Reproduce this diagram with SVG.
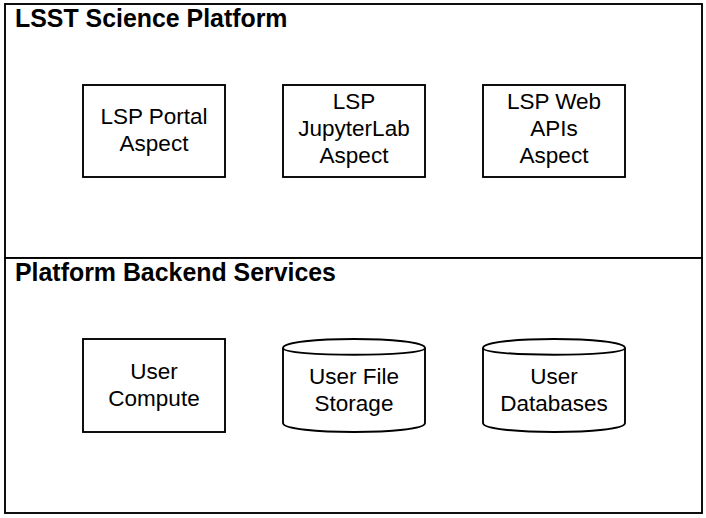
<svg xmlns="http://www.w3.org/2000/svg" width="706" height="518" viewBox="0 0 706 518">
<style>
.shape{fill:#ffffff;stroke:#000000;stroke-width:1.875}
.title{font-family:"Liberation Sans",Arial,Helvetica,sans-serif;font-size:24.9px;font-weight:bold;fill:#000000}
.lbl{font-family:"Liberation Sans",Arial,Helvetica,sans-serif;font-size:22.5px;fill:#000000;text-anchor:middle}
</style>
<rect width="706" height="518" fill="#ffffff"/>
<g id="lsst-science-platform">
<rect class="shape" x="5" y="4" width="697" height="254"/>
<text class="title" x="15" y="27">LSST Science Platform</text>
</g>
<g id="platform-backend-services">
<rect class="shape" x="5" y="258" width="697" height="255"/>
<text class="title" x="15" y="281">Platform Backend Services</text>
</g>
<g id="portal-aspect">
<rect class="shape" x="83" y="85" width="142" height="92"/>
<text class="lbl" x="154" y="124">LSP Portal</text>
<text class="lbl" x="154" y="151">Aspect</text>
</g>
<g id="jupyterlab-aspect">
<rect class="shape" x="283" y="85" width="142" height="92"/>
<text class="lbl" x="354" y="109">LSP</text>
<text class="lbl" x="354" y="136">JupyterLab</text>
<text class="lbl" x="354" y="163">Aspect</text>
</g>
<g id="webapis-aspect">
<rect class="shape" x="483" y="85" width="142" height="92"/>
<text class="lbl" x="554" y="109">LSP Web</text>
<text class="lbl" x="554" y="136">APIs</text>
<text class="lbl" x="554" y="163">Aspect</text>
</g>
<g id="user-compute">
<rect class="shape" x="83" y="339" width="142" height="93"/>
<text class="lbl" x="154" y="379">User</text>
<text class="lbl" x="154" y="406">Compute</text>
</g>
<g id="user-file-storage">
<path class="shape" d="M283,348 C283,336 425,336 425,348 L425,423 C425,435 283,435 283,423 Z"/>
<path class="shape" d="M283,348 C283,357 425,357 425,348" fill="none"/>
<text class="lbl" x="354" y="384">User File</text>
<text class="lbl" x="354" y="411">Storage</text>
</g>
<g id="user-databases">
<path class="shape" d="M483,348 C483,336 625,336 625,348 L625,423 C625,435 483,435 483,423 Z"/>
<path class="shape" d="M483,348 C483,357 625,357 625,348" fill="none"/>
<text class="lbl" x="554" y="384">User</text>
<text class="lbl" x="554" y="411">Databases</text>
</g>
<g id="connectors"></g>
</svg>
